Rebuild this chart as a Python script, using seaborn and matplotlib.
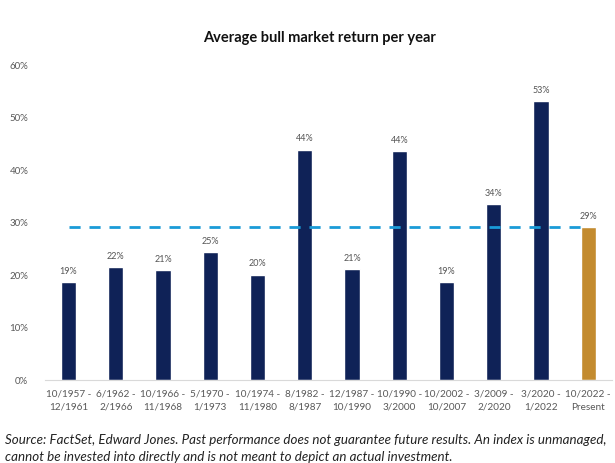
import matplotlib
matplotlib.use("Agg")
import matplotlib.pyplot as plt
import seaborn as sns
import pandas as pd
from matplotlib.ticker import PercentFormatter

# data
periods = ["10/1957 -\n12/1961", "6/1962 -\n2/1966", "10/1966 -\n11/1968", "5/1970 -\n1/1973",
           "10/1974 -\n11/1980", "8/1982 -\n8/1987", "12/1987 -\n10/1990", "10/1990 -\n3/2000",
           "10/2002 -\n10/2007", "3/2009 -\n2/2020", "3/2020 -\n1/2022", "10/2022 -\nPresent"]
returns = [18.7, 21.5, 20.9, 24.4, 20.1, 43.9, 21.1, 43.6, 18.7, 33.5, 53.2, 29.2]
labels = ["19%", "22%", "21%", "25%", "20%", "44%", "21%", "44%", "19%", "34%", "53%", "29%"]
kind = ["past"] * 11 + ["current"]
average = 29.2

df = pd.DataFrame({"period": periods, "ret": returns, "kind": kind})

sns.set_style("white")
plt.rcParams["font.family"] = ["Lato", "DejaVu Sans"]

fig = plt.figure(figsize=(6.15, 4.63), dpi=100)
ax = fig.add_axes([0.073, 0.179, 0.922, 0.680])

sns.barplot(data=df, x="period", y="ret", hue="kind", dodge=False, legend=False, saturation=1,
            palette={"past": "#0f2257", "current": "#c38b2f"}, width=0.32, ax=ax)

ax.plot([0, 11 - 0.16], [average, average], color="#1a9bd7", lw=2, ls=(0, (4, 3.2)), zorder=3)

for i, (v, t) in enumerate(zip(returns, labels)):
    ax.text(i, v + 1.2, t, ha="center", va="bottom", fontsize=6.5, color="#555555")

ax.set_ylim(0, 60)
ax.set_xlim(-0.5, 11.5)
ax.yaxis.set_major_formatter(PercentFormatter(decimals=0))
ax.set_yticks(range(0, 61, 10))
ax.tick_params(axis="y", labelsize=7, colors="#595959", length=0, pad=12)
ax.tick_params(axis="x", labelsize=7.2, colors="#595959", length=3, pad=4, color="#d9d9d9")
for lab in ax.get_xticklabels():
    lab.set_linespacing(1.55)
ax.set_xlabel("")
ax.set_ylabel("")
for s in ["top", "right", "left"]:
    ax.spines[s].set_visible(False)
ax.spines["bottom"].set_color("#d9d9d9")

fig.text(0.52, 0.918, "Average bull market return per year", ha="center", va="center",
         fontsize=10.5, fontweight="bold", color="#111111")
fig.text(0.008, 0.031, "Source: FactSet, Edward Jones. Past performance does not guarantee future results. An index is unmanaged,\ncannot be invested into directly and is not meant to depict an actual investment.",
         ha="left", va="center", fontsize=9.6, style="italic", color="#222222", linespacing=1.45)

fig.savefig("out.png", dpi=100)
